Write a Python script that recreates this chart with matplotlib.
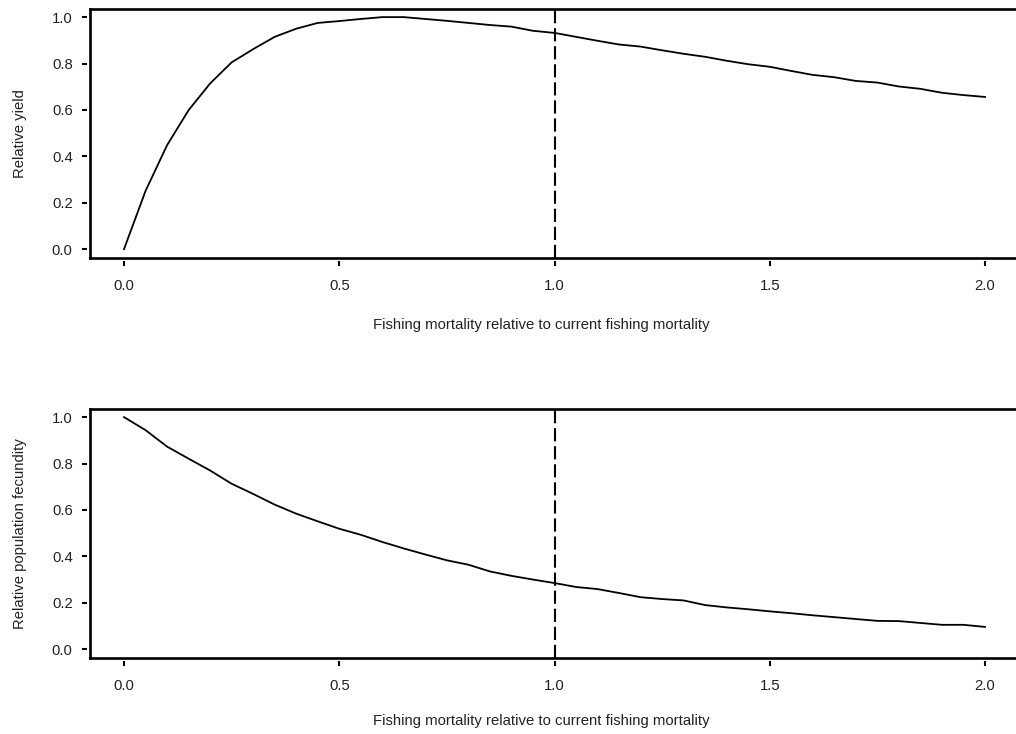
import numpy as np
import matplotlib
matplotlib.use("Agg")
import matplotlib.pyplot as plt
from matplotlib.lines import Line2D

plt.rcParams['font.family'] = ['Liberation Sans', 'DejaVu Sans']
plt.rcParams['lines.scale_dashes'] = False

# Fishing mortality relative to current
F = [0.00, 0.05, 0.10, 0.15, 0.20, 0.25, 0.30, 0.35, 0.40, 0.45,
     0.50, 0.55, 0.60, 0.65, 0.70, 0.75, 0.80, 0.85, 0.90, 0.95,
     1.00, 1.05, 1.10, 1.15, 1.20, 1.25, 1.30, 1.35, 1.40, 1.45,
     1.50, 1.55, 1.60, 1.65, 1.70, 1.75, 1.80, 1.85, 1.90, 1.95, 2.00]

relative_yield = [0.000, 0.251, 0.448, 0.599, 0.714, 0.805, 0.862, 0.915, 0.950, 0.975,
                  0.983, 0.992, 1.000, 1.000, 0.992, 0.984, 0.975, 0.966, 0.959, 0.941,
                  0.932, 0.915, 0.898, 0.882, 0.873, 0.857, 0.842, 0.829, 0.812, 0.797,
                  0.786, 0.768, 0.751, 0.741, 0.725, 0.718, 0.701, 0.691, 0.674, 0.664, 0.656]

relative_fecundity = [1.000, 0.944, 0.873, 0.821, 0.770, 0.713, 0.669, 0.623, 0.584, 0.551,
                      0.519, 0.493, 0.462, 0.434, 0.408, 0.383, 0.364, 0.335, 0.316, 0.300,
                      0.285, 0.268, 0.259, 0.242, 0.224, 0.216, 0.210, 0.190, 0.180, 0.172,
                      0.163, 0.155, 0.146, 0.138, 0.130, 0.122, 0.121, 0.113, 0.105, 0.105, 0.096]

x_ticks = [0.0, 0.5, 1.0, 1.5, 2.0]
y_ticks = [0.0, 0.2, 0.4, 0.6, 0.8, 1.0]
current_F = 1.0

xlabel = "Fishing mortality relative to current fishing mortality"
ylabels = ["Relative yield", "Relative population fecundity"]

W, H = 1016, 734
fig = plt.figure(figsize=(W / 100, H / 100), dpi=100)

def px_axes(left, top, right, bottom):
    return fig.add_axes([left / W, 1 - bottom / H, (right - left) / W, (bottom - top) / H])

ax1 = px_axes(90, 9, 1016, 258)
ax2 = px_axes(90, 409, 1016, 658)
label_y = {0: -(318 - 258) / 249, 1: -(714 - 658) / 249}

FS = 10.7
for i, (ax, yvals, ylab) in enumerate([(ax1, relative_yield, ylabels[0]),
                                        (ax2, relative_fecundity, ylabels[1])]):
    ax.plot(F, yvals, color='black', lw=1.3, solid_joinstyle='round')
    ax.axvline(current_F, color='black', lw=1.5, dashes=(9.5, 3.5))
    ax.set_xlim(-0.079, 2.072)
    ax.set_ylim(-0.038, 1.035)
    ax.set_xticks(x_ticks)
    ax.set_xticklabels([f"{t:.1f}" for t in x_ticks])
    ax.set_yticks(y_ticks)
    ax.set_yticklabels([f"{t:.1f}" for t in y_ticks])
    for s in ['top', 'right']:
        ax.spines[s].set_visible(False)
    for s in ['left', 'bottom']:
        ax.spines[s].set_position(('outward', 2.5))
        ax.spines[s].set_visible(False)
    ax.tick_params(axis='both', direction='out', length=3.5, width=1.5, labelsize=FS,
                   colors='black', labelcolor='#222222')
    ax.tick_params(axis='x', pad=9)
    ax.tick_params(axis='y', pad=6.5)
    # box lines (left, top, bottom)
    for xs, ys in [([0, 0], [0, 1]), ([0, 1], [1, 1]), ([0, 1], [0, 0])]:
        ax.add_line(Line2D(xs, ys, transform=ax.transAxes, color='black', lw=1.9,
                           clip_on=False, solid_capstyle='projecting'))
    ax.set_xlabel(xlabel, fontsize=FS, color='#222222')
    ax.xaxis.set_label_coords(0.487, label_y[i])
    ax.set_ylabel(ylab, fontsize=FS, color='#222222')
    ax.yaxis.set_label_coords(-(90 - 27) / 926, 0.5)

fig.savefig("out.png", dpi=100)
